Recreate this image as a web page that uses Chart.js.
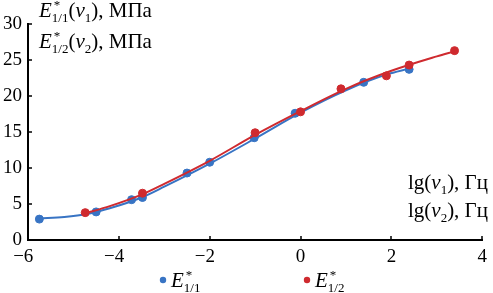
<!DOCTYPE html>
<html>
<head>
<meta charset="utf-8">
<script src="https://cdn.jsdelivr.net/npm/chart.js@4"></script>
<style>
html,body{margin:0;padding:0;background:#fff;}
#wrap{width:493px;height:293px;position:relative;}
</style>
</head>
<body>
<div id="wrap"><canvas id="c" width="493" height="293"></canvas></div>
<script>
// ---- data ----
const xTicks = [-6, -4, -2, 0, 2, 4];
const yTicks = [0, 5, 10, 15, 20, 25, 30];

// measured points E*1/1 (blue)
const blueX = [-5.75, -4.5, -3.72, -3.48, -2.5, -2.0, -1.02, -0.12, 1.39, 2.39];
const blueY = [2.9, 3.9, 5.6, 5.9, 9.3, 10.8, 14.2, 17.6, 21.9, 23.7];
// measured points E*1/2 (red)
const redX = [-4.74, -3.48, -1.0, 0.0, 0.89, 1.89, 2.39, 3.39];
const redY = [3.8, 6.5, 14.9, 17.8, 21.0, 22.8, 24.3, 26.3];

// fitted curves
const blueFitX = [-5.75, -5.2, -4.7, -4.2, -3.5, -3.0, -2.0, -1.0, 0.0, 1.0, 1.9, 2.39];
const blueFitY = [3.0, 3.2, 3.6, 4.4, 5.9, 7.4, 10.6, 14.1, 17.7, 20.8, 23.0, 23.8];
const redFitX = [-4.74, -4.2, -3.5, -3.0, -2.0, -1.0, 0.0, 1.0, 2.0, 3.0, 3.39];
const redFitY = [3.7, 4.7, 6.3, 7.8, 11.0, 14.6, 17.9, 21.0, 23.5, 25.5, 26.2];

const BLUE = '#3874c4';
const RED = '#cf2a2f';
const FONT = '"Liberation Serif", "Times New Roman", serif';

function pts(xs, ys){ return xs.map((x,i)=>({x:x, y:ys[i]})); }

// rich text parts: [text, kind, extra]; kinds: n, i, sub, sup, supsub (text=sup, extra=sub)
function partWidth(ctx, p, size){
  const small = Math.round(size*0.62);
  if (p[1]==='n'){ ctx.font = size+'px '+FONT; return ctx.measureText(p[0]).width; }
  if (p[1]==='i'){ ctx.font = 'italic '+size+'px '+FONT; return ctx.measureText(p[0]).width; }
  if (p[1]==='sub' || p[1]==='sup'){ ctx.font = small+'px '+FONT; return ctx.measureText(p[0]).width; }
  if (p[1]==='supsub'){
    ctx.font = small+'px '+FONT;
    return Math.max(ctx.measureText(p[0]).width, ctx.measureText(p[2]).width);
  }
  return 0;
}
function richWidth(ctx, parts, size){
  let w = 0;
  for (const p of parts) w += partWidth(ctx, p, size);
  return w;
}
function drawRich(ctx, x, y, parts, size, align){
  if (align==='right') x -= richWidth(ctx, parts, size);
  const small = Math.round(size*0.62);
  ctx.save();
  ctx.fillStyle = '#000';
  ctx.textBaseline = 'alphabetic';
  ctx.textAlign = 'left';
  for (const p of parts){
    const w = partWidth(ctx, p, size);
    if (p[1]==='n'){ ctx.font = size+'px '+FONT; ctx.fillText(p[0], x, y); }
    else if (p[1]==='i'){ ctx.font = 'italic '+size+'px '+FONT; ctx.fillText(p[0], x, y); }
    else if (p[1]==='sub'){ ctx.font = small+'px '+FONT; ctx.fillText(p[0], x, y+size*0.22); }
    else if (p[1]==='sup'){ ctx.font = small+'px '+FONT; ctx.fillText(p[0], x, y-size*0.42); }
    else if (p[1]==='supsub'){
      ctx.font = small+'px '+FONT;
      ctx.fillText(p[0], x+2, y-size*0.38);
      ctx.fillText(p[2], x, y+size*0.22);
    }
    x += w;
  }
  ctx.restore();
}

const annot = {
  id: 'annot',
  afterDraw(chart){
    const ctx = chart.ctx;
    const xs = chart.scales.x, ys = chart.scales.y;
    // inward tick marks
    ctx.save();
    ctx.strokeStyle = '#000';
    ctx.lineWidth = 1.5;
    ctx.beginPath();
    for (const v of xTicks){
      const px = Math.round(xs.getPixelForValue(v));
      ctx.moveTo(px, ys.bottom); ctx.lineTo(px, ys.bottom-4);
    }
    for (const v of yTicks){
      const py = Math.round(ys.getPixelForValue(v));
      ctx.moveTo(xs.left, py); ctx.lineTo(xs.left+4, py);
    }
    ctx.stroke();
    ctx.restore();

    const S = 21;
    drawRich(ctx, 39, 17, [['E','i'],['*','supsub','1/1'],['(','n'],['ν','i'],['1','sub'],['), МПа','n']], S);
    drawRich(ctx, 39, 48, [['E','i'],['*','supsub','1/2'],['(','n'],['ν','i'],['2','sub'],['), МПа','n']], S);
    drawRich(ctx, 488, 189, [['lg(','n'],['ν','i'],['1','sub'],['), Гц','n']], S, 'right');
    drawRich(ctx, 488, 217, [['lg(','n'],['ν','i'],['2','sub'],['), Гц','n']], S, 'right');

    // legend
    ctx.save();
    ctx.fillStyle = BLUE;
    ctx.beginPath(); ctx.arc(163, 280, 3.2, 0, Math.PI*2); ctx.fill();
    ctx.fillStyle = RED;
    ctx.beginPath(); ctx.arc(307, 280, 3.2, 0, Math.PI*2); ctx.fill();
    ctx.restore();
    drawRich(ctx, 171, 287, [['E','i'],['*','supsub','1/1']], S);
    drawRich(ctx, 315, 287, [['E','i'],['*','supsub','1/2']], S);
  }
};

new Chart(document.getElementById('c'), {
  type: 'scatter',
  data: {
    datasets: [
      { label: 'E*1/2 fit', data: pts(redFitX, redFitY), showLine: true, borderColor: RED, borderWidth: 2,
        pointRadius: 0, cubicInterpolationMode: 'monotone', order: 0 },
      { label: 'E*1/2', data: pts(redX, redY), showLine: false, backgroundColor: RED, borderColor: RED,
        pointRadius: 4, order: 1 },
      { label: 'E*1/1 fit', data: pts(blueFitX, blueFitY), showLine: true, borderColor: BLUE, borderWidth: 2,
        pointRadius: 0, cubicInterpolationMode: 'monotone', order: 2 },
      { label: 'E*1/1', data: pts(blueX, blueY), showLine: false, backgroundColor: BLUE, borderColor: BLUE,
        pointRadius: 4, order: 3 }
    ]
  },
  options: {
    responsive: false,
    animation: false,
    layout: { padding: { top: 24, right: 5, left: 0, bottom: 0 } },
    plugins: { legend: { display: false }, tooltip: { enabled: false } },
    scales: {
      x: {
        type: 'linear', min: -6, max: 4,
        afterBuildTicks: s => { s.ticks = xTicks.map(v => ({value: v})); },
        afterFit: s => { s.height = 53; },
        grid: { display: false, drawTicks: false },
        border: { display: true, color: '#000', width: 2 },
        ticks: { color: '#000', padding: 6, maxRotation: 0,
          font: { family: FONT, size: 19 },
          callback: v => v < 0 ? '\u2212' + Math.abs(v) + '\u2002' : String(v) }
      },
      y: {
        type: 'linear', min: 0, max: 30,
        afterBuildTicks: s => { s.ticks = yTicks.map(v => ({value: v})); },
        afterFit: s => { s.width = 28; },
        grid: { display: false, drawTicks: false },
        border: { display: true, color: '#000', width: 2 },
        ticks: { color: '#000', padding: 6, font: { family: FONT, size: 19 } }
      }
    }
  },
  plugins: [annot]
});
</script>
</body>
</html>
